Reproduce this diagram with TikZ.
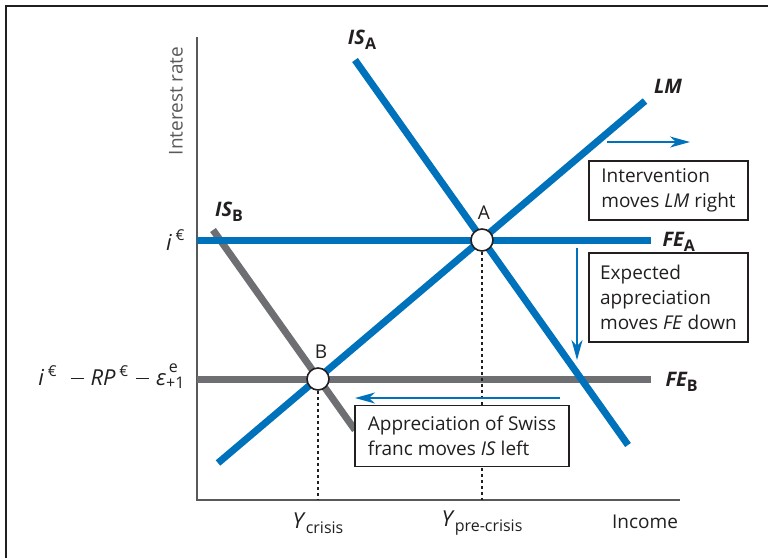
\documentclass[tikz,border=0pt]{standalone}
\usepackage{fontspec}
\setmainfont{Open Sans}
\usetikzlibrary{arrows.meta}
\definecolor{curveblue}{RGB}{0,114,188}
\definecolor{curvegray}{RGB}{110,111,114}
\definecolor{axisgray}{RGB}{88,89,91}
\definecolor{inkgray}{RGB}{35,31,32}
\newcommand{\upidx}[1]{\raisebox{0.8ex}{\fontsize{15}{15}\selectfont #1}}
\newcommand{\dnidx}[1]{\raisebox{-0.45ex}{\fontsize{16}{16}\selectfont #1}}
\newcommand{\eurint}{\textit{i}\,\upidx{€}}
\newcommand{\minussign}{\raisebox{0.3em}{\rule{13pt}{1.2pt}}}
\newcommand{\stackidx}[2]{\raisebox{0.15em}{\fontsize{16}{14}\selectfont\begin{tabular}[c]{@{}l@{}}\,#1\\#2\end{tabular}}}

\begin{document}
\begin{tikzpicture}[x=1pt,y=-1pt,
    curve/.style={line width=7pt},
    axisline/.style={axisgray,line width=2pt},
    shiftarr/.style={curveblue,line width=1.6pt,-{Stealth[length=20pt,width=11pt,inset=6pt]}},
    guide/.style={inkgray,line width=1.4pt,dash pattern=on 3pt off 3pt},
    notebox/.style={draw=inkgray,fill=white,line width=1.4pt,align=left,inner xsep=7pt,inner ysep=3pt,
        text=inkgray,font=\fontsize{19}{25}\selectfont},
    eqpt/.style={circle,draw=inkgray,fill=white,line width=1.6pt,minimum size=22pt,inner sep=0pt},
    lab/.style={text=inkgray,font=\fontsize{19}{22}\selectfont},
    curvelab/.style={text=inkgray,font=\fontsize{20}{22}\selectfont\bfseries\itshape}]

 \useasboundingbox (0,0) rectangle (768,558);
 \draw[inkgray,line width=1.2pt] (6,558) -- (6,6) -- (768,6);

 % axes
 \coordinate (origin) at (197,500);
 \coordinate (ytop) at (197,37);
 \coordinate (xend) at (680,500);
 \draw[axisline] (ytop) -- (origin) -- (xend);

 % curve ends
 \coordinate (isa1) at (355,60);   \coordinate (isa2) at (628,445);
 \coordinate (lm1) at (218,463);   \coordinate (lm2) at (645,101);
 \coordinate (isb1) at (213,230);  \coordinate (isb2) at (355,430);
 \coordinate (fea1) at (197,240);  \coordinate (fea2) at (651,240);
 \coordinate (feb1) at (197,379);  \coordinate (feb2) at (651,379);

 \draw[curve,curvegray] (feb1) -- (feb2);
 \draw[curve,curvegray] (isb1) -- (isb2);
 \draw[curve,curveblue] (fea1) -- (fea2);
 \draw[curve,curveblue] (isa1) -- (isa2);
 \draw[curve,curveblue] (lm1) -- (lm2);

 % equilibria
 \node[eqpt] (A) at (482,240) {};
 \node[eqpt] (B) at (318,379) {};
 \draw[guide] (A.south) -- (A |- origin);
 \draw[guide] (B.south) -- (B |- origin);
 \node[lab] (Alab) at (484,213) {A};
 \node[lab] (Blab) at (321,352) {B};

 % curve labels
 \node[curvelab] (isalab) at (362,40) {IS\dnidx{\bfseries\upshape A}};
 \node[curvelab] (isblab) at (229,212) {IS\dnidx{\bfseries\upshape B}};
 \node[curvelab] (lmlab) at (668,86) {LM};
 \node[curvelab,anchor=west] (fealab) at (659,242) {FE\dnidx{\bfseries\upshape A}};
 \node[curvelab,anchor=west] (feblab) at (662,382) {FE\dnidx{\bfseries\upshape B}};

 % axis labels
 \node[lab,text=axisgray,rotate=90] (ylab) at (176,101) {Interest rate};
 \node[lab,anchor=east,font=\fontsize{22}{24}\selectfont] (ieur) at (188,240) {\eurint};
 \node[lab,anchor=east,font=\fontsize{22}{24}\selectfont] (ilow) at (188,378)
   {\eurint\hspace{14pt}\minussign\hspace{7pt}\textit{RP}\,\upidx{€}\hspace{8pt}\minussign\hspace{7pt}\textit{ε}\stackidx{e}{+1}};
 \node[lab] (ycrisis) at (318,523) {{\fontsize{22}{22}\selectfont\textit{Y}}\dnidx{crisis}};
 \node[lab] (yprecrisis) at (482,523) {{\fontsize{22}{22}\selectfont\textit{Y}}\dnidx{pre-crisis}};
 \node[lab] (income) at (645,522) {Income};

 % shifts
 \coordinate (lmfrom) at (607,142);  \coordinate (lmto) at (690,142);
 \coordinate (fefrom) at (577,248);  \coordinate (feto) at (577,360);
 \coordinate (isfrom) at (560,398);  \coordinate (isto) at (355,398);
 \draw[shiftarr] (lmfrom) -- (lmto);
 \draw[shiftarr] (fefrom) -- (feto);
 \draw[shiftarr] (isfrom) -- (isto);

 \node[notebox,minimum width=159pt,minimum height=59pt] (lmnote) at (668.5,190.5)
   {Intervention\\moves \textit{LM} right};
 \node[notebox,minimum width=159pt,minimum height=89pt] (fenote) at (668.5,297.5)
   {Expected\\appreciation\\moves \textit{FE} down};
 \node[notebox,minimum width=214pt,minimum height=61pt] (isnote) at (462,436)
   {Appreciation of Swiss\\franc moves \textit{IS} left};
\end{tikzpicture}
\end{document}
